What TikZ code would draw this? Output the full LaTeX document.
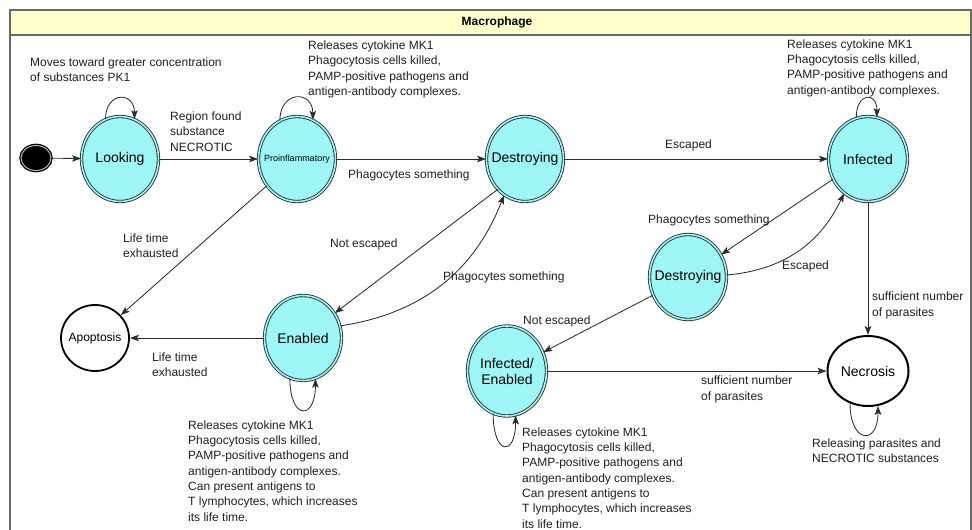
\documentclass[tikz,border=0pt]{standalone}
\usepackage{fontspec}
\setmainfont{Liberation Sans}
\usetikzlibrary{shapes.geometric,arrows.meta}
\definecolor{cellcyan}{RGB}{158,246,246}
\definecolor{titlebar}{RGB}{255,255,204}
\definecolor{linegray}{RGB}{45,45,45}
\definecolor{framegray}{RGB}{105,105,105}
\newcommand{\statetext}[1]{\makebox[0pt]{#1}}
\begin{document}
\begin{tikzpicture}[x=1pt,y=1pt,
    cellstate/.style={ellipse,draw=linegray,line width=0.85pt,double=cellcyan,double distance=1.6pt,
      fill=cellcyan,minimum width=77pt,minimum height=85pt,inner sep=0pt,
      font=\fontsize{14}{16}\selectfont,align=center},
    endstate/.style={ellipse,draw=black,line width=1.8pt,fill=white,inner sep=0pt},
    startdot/.style={ellipse,draw=black,fill=black,line width=1.3pt,double=gray!55,double distance=1pt,
      minimum width=30pt,minimum height=25pt,inner sep=0pt},
    lbl/.style={anchor=west,align=left,inner sep=0pt,font=\fontsize{12}{15.3}\selectfont,text=black!88},
    arr/.style={-{Stealth[length=9pt,width=6.5pt,inset=2pt]},draw=linegray,line width=0.85pt}]
  \useasboundingbox (0,0) rectangle (972,-530);
  \clip (0,0) rectangle (972,-530);
  \fill[titlebar] (10,-10) rectangle (971,-35);
  \draw[framegray,line width=1.3pt] (10,-545) -- (10,-10) -- (971,-10) -- (971,-545);
  \draw[framegray,line width=1.1pt] (10,-35) -- (971,-35);
  \node[font=\bfseries\fontsize{12}{14}\selectfont] (title) at (497,-22) {Macrophage};

  \node[startdot] (start) at (36,-158) {};
  \node[cellstate] (looking) at (120,-159) {\statetext{Looking}};
  \node[cellstate,font=\fontsize{9}{11}\selectfont] (proinfl) at (297,-159) {\statetext{Proinflammatory}};
  \node[cellstate] (destroy) at (525,-159) {\statetext{Destroying}};
  \node[cellstate,minimum width=79pt] (infected) at (868,-159) {\statetext{Infected}};
  \node[endstate,minimum width=68pt,minimum height=66pt,font=\fontsize{12}{14}\selectfont] (apoptosis) at (95,-338) {\statetext{Apoptosis}};
  \node[cellstate] (enabled) at (303,-338) {\statetext{Enabled}};
  \node[cellstate] (destroymid) at (688,-277) {\statetext{Destroying}};
  \node[cellstate,minimum width=79pt,minimum height=90pt] (infenabled) at (507,-371) {Infected/\\Enabled};
  \node[endstate,minimum width=81pt,minimum height=70pt,line width=2pt,font=\fontsize{14}{16}\selectfont] (necrosis) at (868,-371) {\statetext{Necrosis}};

  \draw[arr] (start) -- (looking);
  \draw[arr] (looking) -- (proinfl);
  \draw[arr] (proinfl) -- (destroy);
  \draw[arr] (destroy) -- (infected);
  \draw[arr] (proinfl) -- (apoptosis);
  \draw[arr] (destroy.228) -- (enabled.38);
  \draw[arr] (enabled.18) to[bend right=30] (destroy.240);
  \draw[arr] (enabled) -- (apoptosis);
  \draw[arr] (infected.210) -- (destroymid.34);
  \draw[arr] (destroymid.3) to[bend right=30] (infected.235);
  \draw[arr] (infected) -- (necrosis);
  \draw[arr] (destroymid) -- (infenabled);
  \draw[arr] (infenabled) -- (necrosis);

  \draw[arr] (looking.110) .. controls +(0,28) and +(0,28) .. (looking.70);
  \draw[arr] (proinfl.114) .. controls +(0,30) and +(0,30) .. (proinfl.68);
  \draw[arr] (infected.106) .. controls +(0,26) and +(0,26) .. (infected.78);
  \draw[arr] (enabled.252) .. controls +(0,-42) and +(0,-42) .. (enabled.287);
  \draw[arr] (infenabled.252) .. controls +(0,-42) and +(0,-42) .. (infenabled.281);
  \draw[arr] (necrosis.241) .. controls +(0,-40) and +(0,-40) .. (necrosis.286);

  \node[lbl] (lblpk) at (30,-69.5) {Moves toward greater concentration\\of substances PK1};
  \node[lbl] (lblregion) at (170,-131.5) {Region found\\substance\\NECROTIC};
  \node[lbl] (lblproloop) at (308,-69.3) {Releases cytokine MK1\\Phagocytosis cells killed,\\PAMP-positive pathogens and\\antigen-antibody complexes.};
  \node[lbl] (lblphagotop) at (348,-175) {Phagocytes something};
  \node[lbl] (lblesctop) at (665,-145) {Escaped};
  \node[lbl] (lblinfloop) at (787,-68) {Releases cytokine MK1\\Phagocytosis cells killed,\\PAMP-positive pathogens and\\antigen-antibody complexes.};
  \node[lbl] (lbllifeup) at (123,-245.5) {Life time\\exhausted};
  \node[lbl] (lblnotescl) at (330,-244) {Not escaped};
  \node[lbl] (lblphagomid) at (443,-277) {Phagocytes something};
  \node[lbl] (lbllifelow) at (152,-364.5) {Life time\\exhausted};
  \node[lbl] (lblenloop) at (188,-471) {Releases cytokine MK1\\Phagocytosis cells killed,\\PAMP-positive pathogens and\\antigen-antibody complexes.\\Can present antigens to\\T lymphocytes, which increases\\its life time.};
  \node[lbl] (lblphagor) at (648,-220) {Phagocytes something};
  \node[lbl] (lblescr) at (782,-266) {Escaped};
  \node[lbl] (lblsuffr) at (872,-305.5) {sufficient number\\of parasites};
  \node[lbl] (lblnotescr) at (523,-321) {Not escaped};
  \node[lbl] (lblsufflow) at (701,-389.5) {sufficient number\\of parasites};
  \node[lbl] (lblinfenloop) at (522,-478) {Releases cytokine MK1\\Phagocytosis cells killed,\\PAMP-positive pathogens and\\antigen-antibody complexes.\\Can present antigens to\\T lymphocytes, which increases\\its life time.};
  \node[lbl] (lblnecloop) at (812,-450.5) {Releasing parasites and\\NECROTIC substances};
\end{tikzpicture}
\end{document}
